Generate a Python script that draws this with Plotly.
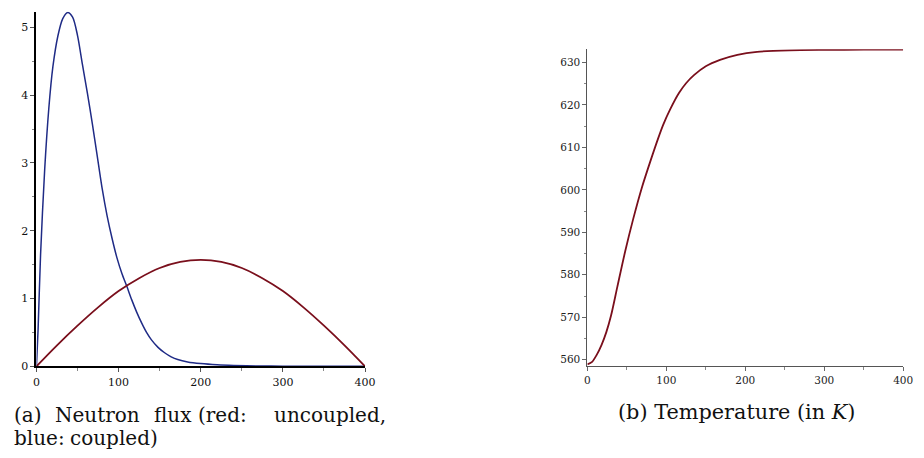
import plotly.graph_objects as go

W, H = 924, 458

# Panel (a): neutron flux
flux_red_x = [0, 25, 50, 75, 100, 125, 150, 175, 200, 225, 250, 275, 300, 325, 350, 375, 400]
flux_red_y = [0, 0.31, 0.60, 0.87, 1.11, 1.30, 1.45, 1.54, 1.57, 1.54, 1.45, 1.30, 1.11, 0.87, 0.60, 0.31, 0]

flux_blue_x = [0, 2, 5, 10, 15, 20, 26, 32, 38, 44, 50, 56, 62, 68, 74, 80, 86, 92, 98, 104,
               110, 116, 122, 128, 134, 140, 148, 156, 164, 172, 184, 200, 220, 240, 270, 300, 340, 400]
flux_blue_y = [0, 0.55, 1.65, 2.9, 3.8, 4.42, 4.87, 5.13, 5.22, 5.15, 4.88, 4.45, 4.03, 3.58,
               3.1, 2.62, 2.22, 1.89, 1.6, 1.37, 1.18, 0.98, 0.80, 0.64, 0.50, 0.39, 0.28, 0.20,
               0.14, 0.10, 0.065, 0.04, 0.022, 0.012, 0.005, 0.002, 0.001, 0]

# Panel (b): temperature
temp_x = [0, 6, 12, 18, 24, 30, 38, 48, 58, 69, 81, 90, 96, 105, 116, 125, 135, 150, 168, 190,
          215, 256, 300, 350, 400]
temp_y = [558.9, 559.5, 561.2, 563.5, 566.5, 570.4, 577.2, 585.6, 593.1, 600.5, 607.4, 612.3,
          615.3, 619.0, 622.8, 625.1, 627.0, 629.1, 630.6, 631.8, 632.5, 632.85, 632.95, 633.0, 633.0]

RED = "#7a0f1c"
BLUE = "#1f2b86"

fig = go.Figure()
fig.add_trace(go.Scatter(x=flux_blue_x, y=flux_blue_y, mode="lines",
                         line=dict(color=BLUE, width=1.5, shape="spline", smoothing=0.8),
                         xaxis="x", yaxis="y", showlegend=False))
fig.add_trace(go.Scatter(x=flux_red_x, y=flux_red_y, mode="lines",
                         line=dict(color=RED, width=1.8, shape="spline"),
                         xaxis="x", yaxis="y", showlegend=False))
fig.add_trace(go.Scatter(x=temp_x, y=temp_y, mode="lines",
                         line=dict(color=RED, width=1.8, shape="spline", smoothing=0.8),
                         xaxis="x2", yaxis="y2", showlegend=False))

def px_x(p):
    return p / W

def px_y(p):
    return 1 - p / H

SERIF = "DejaVu Serif, serif"
tickfont_a = dict(family=SERIF, size=11, color="#111")
tickfont_b = dict(family=SERIF, size=10.5, color="#222")

fig.update_layout(
    width=W, height=H,
    margin=dict(l=0, r=0, t=0, b=0),
    paper_bgcolor="white", plot_bgcolor="white",
    xaxis=dict(domain=[px_x(33), px_x(367)], range=[0, 400], anchor="y",
               showgrid=False, zeroline=False, showline=True, linecolor="black", linewidth=2,
               ticks="outside", ticklen=4, tickcolor="#555", dtick=100, tick0=0,
               minor=dict(dtick=50, ticks="outside", ticklen=3, tickcolor="#888"),
               tickfont=tickfont_a),
    yaxis=dict(domain=[px_y(372), px_y(12)], range=[0, 5.23], anchor="x",
               showgrid=False, zeroline=False, showline=True, linecolor="black", linewidth=2,
               ticks="outside", ticklen=4, tickcolor="#555", dtick=1, tick0=0,
               minor=dict(dtick=0.5, ticks="outside", ticklen=2, tickcolor="#888"),
               tickfont=tickfont_a),
    xaxis2=dict(domain=[px_x(593), px_x(914)], range=[0, 400], anchor="y2",
                showgrid=False, zeroline=False, showline=True, linecolor="#555", linewidth=1,
                ticks="outside", ticklen=4, tickcolor="#666", dtick=100, tick0=0,
                minor=dict(dtick=50, ticks="outside", ticklen=3, tickcolor="#888"),
                tickfont=tickfont_b),
    yaxis2=dict(domain=[px_y(372), px_y(50)], range=[558.45, 633.1], anchor="x2",
                showgrid=False, zeroline=False, showline=True, linecolor="#555", linewidth=1,
                ticks="outside", ticklen=4, tickcolor="#666", dtick=10, tick0=560,
                minor=dict(dtick=5, ticks="outside", ticklen=2, tickcolor="#888"),
                tickfont=tickfont_b),
)

capfont = dict(family="DejaVu Serif, serif", size=20, color="#111")
words_line1 = [("(a)", 8), ("Neutron", 50), ("flux", 150), ("(red:", 195), ("uncoupled,", 272)]
words_line2 = [("blue:", 8), ("coupled)", 65)]
for txt, x in words_line1:
    fig.add_annotation(text=txt, x=px_x(x), y=px_y(421), xref="paper", yref="paper",
                       xanchor="left", yanchor="middle", showarrow=False, font=capfont)
for txt, x in words_line2:
    fig.add_annotation(text=txt, x=px_x(x), y=px_y(445), xref="paper", yref="paper",
                       xanchor="left", yanchor="middle", showarrow=False, font=capfont)
fig.add_annotation(text="(b) Temperature (in <i>K</i>)", x=px_x(745), y=px_y(418),
                   xref="paper", yref="paper", xanchor="center", yanchor="middle",
                   showarrow=False, font=dict(family="DejaVu Serif, serif", size=20.8, color="#111"))

fig.write_html("out.html")
